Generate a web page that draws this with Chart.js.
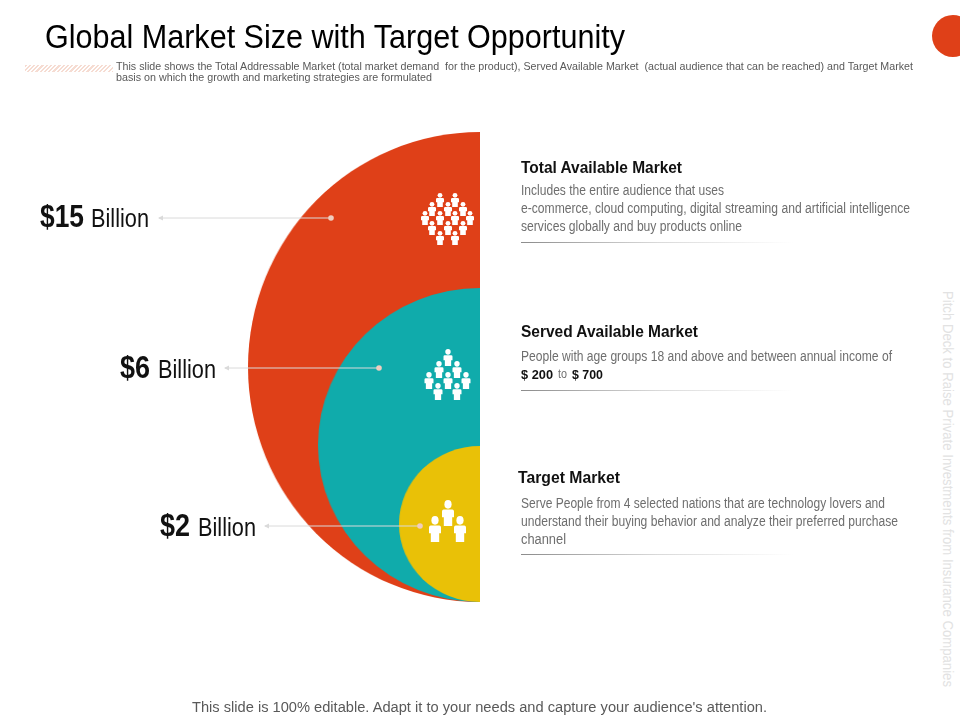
<!DOCTYPE html>
<html>
<head>
<meta charset="utf-8">
<title>Global Market Size with Target Opportunity</title>
<script src="https://cdn.jsdelivr.net/npm/chart.js@4/dist/chart.umd.min.js"></script>
<style>
    html, body { margin: 0; padding: 0; background: #fff; }
    #slide { position: relative; width: 960px; height: 720px; overflow: hidden; font-family: "Liberation Sans", Arial, sans-serif; }
    #slide > * { position: absolute; }
    .txt { white-space: pre; transform-origin: left center; line-height: 1; }
    .pie { transform-origin: right center; }
    .rule { height: 1px; background: linear-gradient(to right, #8c8c8c, #d9d9d9 50%, #fff); }
    #hatch { left: 25px; top: 65px; width: 88px; height: 7px; background: repeating-linear-gradient(135deg, #f6dcd2 0 1.5px, #fff 1.5px 3px); }
    #dot { left: 932px; top: 15px; width: 42px; height: 42px; border-radius: 50%; background: #df4018; }
    #side { left: 955px; top: 291px; color: #e2e2e2; font-size: 14px; white-space: pre; transform-origin: left top; line-height: 1; }
</style>
</head>
<body>
<div id="slide">
    <div id="hatch"></div>
    <div id="dot"></div>
    <div id="side">Pitch Deck to Raise Private Investments from Insurance Companies</div>
    <svg id="overlay" width="960" height="720" style="left:0;top:0;z-index:2"></svg>
</div>
<script>
const marketNames = ['Total Available Market', 'Served Available Market', 'Target Market'];
const marketValues = [15, 6, 2];
const marketColors = ['#df4018', '#10abab', '#e9c107'];

const slide = document.getElementById('slide');

// half circles, each one is its own pie sharing the right edge at x=480
const pieBoxes = [
    { ry: 235, rx: 232, cy: 367 },
    { ry: 157, rx: 162, cy: 445 },
    { ry: 78, rx: 81, cy: 524 }
];

marketValues.forEach((value, i) => {
    const box = pieBoxes[i];
    const canvas = document.createElement('canvas');
    canvas.className = 'pie';
    canvas.width = box.ry;
    canvas.height = box.ry * 2;
    canvas.style.cssText = `left:${480 - box.ry}px;top:${box.cy - box.ry}px;width:${box.ry}px;height:${box.ry * 2}px;transform:scaleX(${box.rx / box.ry});z-index:1`;
    slide.appendChild(canvas);

    new Chart(canvas, {
        type: 'pie',
        data: {
            labels: [marketNames[i]],
            datasets: [{ data: [value], backgroundColor: marketColors[i], borderWidth: 0 }]
        },
        options: {
            responsive: false,
            animation: false,
            rotation: 180,
            circumference: 180,
            layout: { padding: 0 },
            plugins: { legend: { display: false }, tooltip: { enabled: false } }
        }
    });
});

// text: x, center y, target width, font size, color, weight, content
const dark = '#111';
const grey = '#6e6e6e';
const sub = '#595959';
const texts = [
    [45, 36, 580, 34, '#000', 400, 'Global Market Size with Target Opportunity'],
    [116, 67, 797, 10.3, sub, 400, 'This slide shows the Total Addressable Market (total market demand  for the product), Served Available Market  (actual audience that can be reached) and Target Market'],
    [116, 78, 316, 10.3, sub, 400, 'basis on which the growth and marketing strategies are formulated'],
    [521, 167, 161, 17, dark, 700, 'Total Available Market'],
    [521, 190, 203, 14, grey, 400, 'Includes the entire audience that uses'],
    [521, 208, 389, 14, grey, 400, 'e-commerce, cloud computing, digital streaming and artificial intelligence'],
    [521, 226, 221, 14, grey, 400, 'services globally and buy products online'],
    [521, 331, 177, 17, dark, 700, 'Served Available Market'],
    [521, 356, 371, 14, grey, 400, 'People with age groups 18 and above and between annual income of'],
    [521, 374, 32, 13, dark, 700, '$ 200'],
    [558, 374, 9, 12, grey, 400, 'to'],
    [572, 374, 31, 13, dark, 700, '$ 700'],
    [518, 477, 102, 17, dark, 700, 'Target Market'],
    [521, 503, 364, 14, grey, 400, 'Serve People from 4 selected nations that are technology lovers and'],
    [521, 521, 377, 14, grey, 400, 'understand their buying behavior and analyze their preferred purchase'],
    [521, 539, 45, 14, grey, 400, 'channel'],
    [40, 216, 44, 31, dark, 700, '$15'],
    [91, 218, 58, 26, dark, 400, 'Billion'],
    [120, 367, 30, 31, dark, 700, '$6'],
    [158, 369, 58, 26, dark, 400, 'Billion'],
    [160, 525, 30, 31, dark, 700, '$2'],
    [198, 527, 58, 26, dark, 400, 'Billion'],
    [192, 707, 575, 14, sub, 400, "This slide is 100% editable. Adapt it to your needs and capture your audience's attention."]
];

texts.forEach(([x, y, w, size, color, weight, content]) => {
    const el = document.createElement('div');
    el.className = 'txt';
    el.textContent = content;
    el.style.cssText = `left:${x}px;top:${y - size / 2}px;font-size:${size}px;color:${color};font-weight:${weight};z-index:3`;
    slide.appendChild(el);
    // squeeze to the narrow look of the original
    el.style.transform = `scaleX(${w / el.getBoundingClientRect().width})`;
});

[242, 390, 554].forEach(y => {
    const rule = document.createElement('div');
    rule.className = 'rule';
    rule.style.cssText = `left:521px;top:${y}px;width:272px`;
    slide.appendChild(rule);
});

// vertical note down the right side
const side = document.getElementById('side');
side.style.transform = `rotate(90deg) scaleX(${396 / side.getBoundingClientRect().width})`;

// callouts and people icons
const overlay = document.getElementById('overlay');
const callouts = [[159, 331, 218], [225, 379, 368], [265, 420, 526]];
const people = [
    { h: 14, w: 8, spots: [[440, 193], [455, 193], [432, 202], [448, 202], [463, 202], [425, 211], [440, 211], [455, 211], [470, 211], [432, 221], [448, 221], [463, 221], [440, 231], [455, 231]] },
    { h: 17, w: 9, spots: [[448, 349], [439, 361], [457, 361], [429, 372], [448, 372], [466, 372], [438, 383], [457, 383]] },
    { h: 26, w: 12, spots: [[448, 500], [435, 516], [460, 516]] }
];

let svg = '';
callouts.forEach(([x1, x2, y]) => {
    svg += `<line x1="${x1}" y1="${y}" x2="${x2}" y2="${y}" stroke="#dadada" stroke-width="1"/>`;
    svg += `<path d="M${x1 - 1} ${y}l5 -2.5v5z" fill="#dadada"/>`;
    svg += `<circle cx="${x2}" cy="${y}" r="2.8" fill="#f0cdbf"/>`;
});
people.forEach(group => {
    group.spots.forEach(([cx, top]) => {
        svg += `<g transform="translate(${cx - group.w / 2} ${top}) scale(${group.w / 10} ${group.h / 18})" fill="#fff">` +
            `<circle cx="5" cy="3" r="3"/>` +
            `<path d="M1.5 6.5h7q1.5 0 1.5 1.5v4h-1.5v6h-5.5h-1.5v-6h-1.5v-4q0-1.5 1.5-1.5z"/></g>`;
    });
});
overlay.innerHTML = svg;
</script>
</body>
</html>
